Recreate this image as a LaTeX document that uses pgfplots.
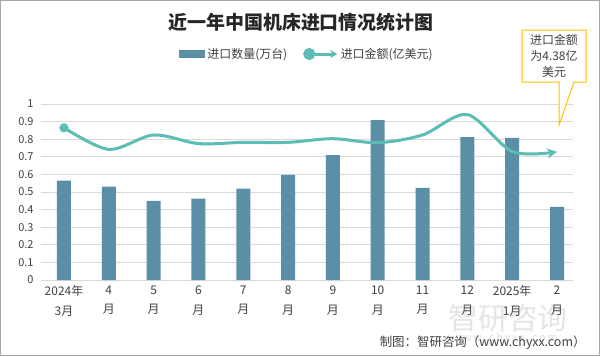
\documentclass[border=0pt]{standalone}
\usepackage{pgfplots}
\pgfplotsset{compat=1.18}
\usepackage{fontspec}
\setmainfont{Noto Sans CJK SC}
\usetikzlibrary{arrows.meta}
\definecolor{barc}{HTML}{5B8FA7}
\definecolor{linec}{HTML}{5BBDB3}
\definecolor{gridc}{HTML}{D9D9D9}
\definecolor{callc}{HTML}{FFC000}
\definecolor{txt}{HTML}{404040}
\begin{document}
\begin{tikzpicture}[x=1bp,y=1bp]
\path[use as bounding box] (0,0) rectangle (600,356);
\fill[white] (0,0) rectangle (600,356);
% watermark
\node[text=gray!20, font=\fontsize{30}{32}\selectfont] at (508,38) {智研咨询};
\node[text=gray!25, font=\fontsize{11}{12}\selectfont] at (505,18) {w\,w\,w\,.\,c\,h\,y\,x\,x\,.\,c\,o\,m};
\begin{axis}[
  at={(41bp,76bp)}, anchor=south west,
  scale only axis, width=532bp, height=176bp,
  xmin=-0.513, xmax=11.357, ymin=0, ymax=1,
  ytick={0,0.1,0.2,0.3,0.4,0.5,0.6,0.7,0.8,0.9,1},
  yticklabels={0,0.1,0.2,0.3,0.4,0.5,0.6,0.7,0.8,0.9,1},
  ymajorgrids, grid style={gridc, line width=0.8bp},
  axis line style={draw=none}, major tick length=0pt,
  xtick={0,...,11},
  xticklabels={{2024年\\3月},{4\\月},{5\\月},{6\\月},{7\\月},{8\\月},{9\\月},{10\\月},{11\\月},{12\\月},{2025年\\1月},{2\\月}},
  xticklabel style={align=center, font=\fontsize{12}{20}\selectfont, text=txt, anchor=north, yshift=-2bp},
  yticklabel style={font=\fontsize{11}{12}\selectfont, text=txt, xshift=-4bp},
  /pgf/number format/assume math mode=true,
  legend style={at={(0.5,1.284)}, anchor=center, draw=none, fill=none,
    legend columns=2, font=\fontsize{12}{14}\selectfont, text=txt,
    /tikz/every even column/.append style={column sep=14bp}},
  legend cell align=left,
]
\addplot[ybar, bar width=14bp, fill=barc, draw=none,
  legend image code/.code={\fill[barc] (0bp,-4bp) rectangle (26bp,4bp);}]
  coordinates {(0,0.564) (1,0.53) (2,0.45) (3,0.462) (4,0.519) (5,0.598) (6,0.71) (7,0.909) (8,0.523) (9,0.812) (10,0.807) (11,0.415)};
\addlegendentry{进口数量(万台)}
\addplot[linec, line width=3bp, smooth, no markers,
  -{Stealth[length=10bp,width=10bp]},
  legend image code/.code={\draw[linec, line width=3bp, -{Stealth[length=7bp,width=8bp]}] (0bp,0bp) -- (28bp,0bp); \fill[linec] (0bp,0bp) circle (4.5bp);}]
  coordinates {(0,0.865) (1,0.742) (2,0.824) (3,0.775) (4,0.782) (5,0.782) (6,0.803) (7,0.78) (8,0.824) (9,0.94) (10,0.73) (11,0.728)};
\addlegendentry{进口金额(亿美元)}
\addplot[color=linec, only marks, mark=*, mark size=4.5bp, mark options={fill=linec, draw=linec, line width=0.1bp}, forget plot]
  coordinates {(0,0.865)};
\end{axis}
% title
\node[font=\fontsize{19}{22}\selectfont\bfseries, text=black!85] at (301,334) {近一年中国机床进口情况统计图};
% callout
\draw[callc, line width=1bp, fill=white] (522,326) -- (586,326) -- (586,274) -- (574,274) -- (559,231) -- (559,274) -- (522,274) -- cycle;
\node[align=center, font=\fontsize{12}{16}\selectfont, text=txt] at (554,300) {进口金额\\为4.38亿\\美元};
% source
\node[anchor=east, font=\fontsize{12.5}{14}\selectfont, text=txt] at (589,13) {制图：智研咨询（www.chyxx.com）};
\draw[gray!70, line width=1bp] (0.5,0.5) rectangle (599.5,355.5);
\end{tikzpicture}
\end{document}
